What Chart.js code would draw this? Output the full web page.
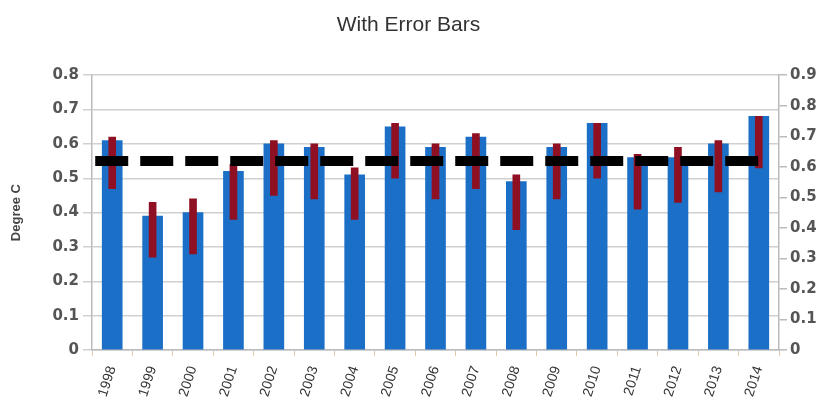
<!DOCTYPE html>
<html>
<head>
    <title>With Error Bars</title>
    <script src="https://cdn.jsdelivr.net/npm/chart.js"></script>
    <style>
        body { margin: 0; background: #fff; }
        #wrap { width: 817px; height: 409px; position: relative; overflow: hidden; }
    </style>
</head>
<body>
    <div id="wrap"><canvas id="chart"></canvas></div>

    <script>
        // data
        const years = ['1998', '1999', '2000', '2001', '2002', '2003', '2004', '2005', '2006',
                       '2007', '2008', '2009', '2010', '2011', '2012', '2013', '2014'];
        const degrees = [0.61, 0.39, 0.40, 0.52, 0.60, 0.59, 0.51, 0.65, 0.59,
                         0.62, 0.49, 0.59, 0.66, 0.56, 0.56, 0.60, 0.68];
        const errLow  = [0.47, 0.27, 0.28, 0.38, 0.45, 0.44, 0.38, 0.50, 0.44,
                         0.47, 0.35, 0.44, 0.50, 0.41, 0.43, 0.46, 0.53];
        const errHigh = [0.62, 0.43, 0.44, 0.54, 0.61, 0.60, 0.53, 0.66, 0.60,
                         0.63, 0.51, 0.60, 0.66, 0.57, 0.59, 0.61, 0.68];
        const avgLevel = 0.55;
        const avgSpan = [-0.42, 16.1];   // category index where the dashed line starts / ends
        const leftTicks = [0, 0.1, 0.2, 0.3, 0.4, 0.5, 0.6, 0.7, 0.8];
        const rightTicks = [0, 0.1, 0.2, 0.3, 0.4, 0.5, 0.6, 0.7, 0.8, 0.9];

        const errBars = errLow.map((lo, i) => [lo, errHigh[i]]);
        const avgLine = avgSpan.map(x => ({ x: x, y: avgLevel }));

        const tickFont = { family: 'DejaVu Sans', size: 15, weight: 'bold' };

        new Chart(document.getElementById('chart'), {
            type: 'bar',
            data: {
                labels: years,
                datasets: [{
                    type: 'line',
                    label: 'Average',
                    data: avgLine,
                    xAxisID: 'xl',
                    yAxisID: 'y',
                    borderColor: '#000',
                    borderWidth: 10,
                    borderDash: [33, 12],
                    borderCapStyle: 'butt',
                    pointRadius: 0,
                    order: 0
                }, {
                    label: 'Error',
                    data: errBars,
                    backgroundColor: '#8e1022',
                    barThickness: 7,
                    grouped: false,
                    order: 1
                }, {
                    label: 'Degree C',
                    data: degrees,
                    backgroundColor: '#1c6fc6',
                    barThickness: 20,
                    grouped: false,
                    order: 2
                }]
            },
            options: {
                responsive: true,
                maintainAspectRatio: false,
                animation: false,
                layout: { padding: 0 },
                plugins: {
                    legend: { display: false },
                    tooltip: { enabled: false },
                    title: {
                        display: true,
                        text: 'With Error Bars',
                        color: '#333',
                        font: { family: 'Liberation Sans', size: 21, weight: 'normal' },
                        padding: { top: 13, bottom: 37 }
                    }
                },
                scales: {
                    x: {
                        grid: {
                            offset: true,
                            drawOnChartArea: false,
                            color: '#e2c9a8',
                            tickLength: 6
                        },
                        border: { color: '#bbb', width: 1.5 },
                        ticks: {
                            autoSkip: false,
                            minRotation: 72,
                            maxRotation: 72,
                            padding: 8,
                            color: '#333',
                            font: { family: 'Liberation Sans', size: 14 }
                        },
                        afterFit: s => { s.height = 59; }
                    },
                    xl: {
                        type: 'linear',
                        display: false,
                        offset: false,
                        min: -0.5,
                        max: 16.5
                    },
                    y: {
                        min: 0,
                        max: 0.8,
                        afterBuildTicks: s => { s.ticks = leftTicks.map(v => ({ value: v })); },
                        grid: { color: '#d0d0d0', lineWidth: 1.5, tickLength: 9 },
                        border: { color: '#bbb', width: 1.5 },
                        ticks: {
                            padding: 4,
                            color: '#555',
                            font: tickFont,
                            callback: v => v === 0 ? '0' : v.toFixed(1)
                        },
                        title: {
                            display: true,
                            text: 'Degree C',
                            color: '#444',
                            font: { family: 'Liberation Sans', size: 13, weight: 'bold' },
                            padding: { top: 9, bottom: 0 }
                        },
                        afterFit: s => { s.width = 92; }
                    },
                    y2: {
                        position: 'right',
                        min: 0,
                        max: 0.9,
                        afterBuildTicks: s => { s.ticks = rightTicks.map(v => ({ value: v })); },
                        grid: { drawOnChartArea: false, color: '#bbb', lineWidth: 1.5, tickLength: 8 },
                        border: { color: '#bbb', width: 1.5 },
                        ticks: {
                            padding: 3,
                            color: '#555',
                            font: tickFont,
                            callback: v => v === 0 ? '0' : v.toFixed(1)
                        },
                        afterFit: s => { s.width = 38; }
                    }
                }
            }
        });
    </script>
</body>
</html>
